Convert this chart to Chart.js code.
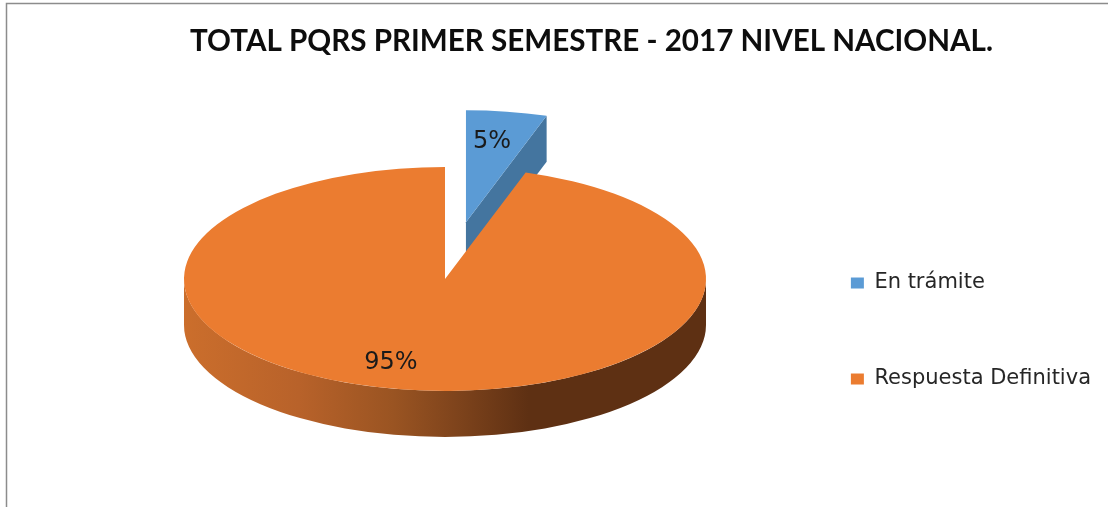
<!DOCTYPE html>
<html>
<head>
<meta charset="utf-8">
<style>
  html, body { margin: 0; background: #fff; }
  canvas { display: block; }
</style>
<script src="https://cdn.jsdelivr.net/npm/chart.js@4/dist/chart.umd.min.js"></script>
</head>
<body>
<canvas id="pqrsChart" width="1108" height="507"></canvas>
<script>
const categories = ['En trámite', 'Respuesta Definitiva'];
const shares = [5, 95];
const sliceColors = ['#5B9BD5', '#EB7C30'];
const chartTitle = 'TOTAL PQRS PRIMER SEMESTRE - 2017 NIVEL NACIONAL.';

// pie is a normal chart.js pie, squashed and given a wall to look 3D
const pieCenter = { x: 445, y: 279 };
const flat = 0.429;
const depth = 46;
const explode = [134, 0];
const labelShift = [{ x: 47, y: -137 }, { x: -54, y: 84 }];

const wallGradient = (ctx) => {
    const g = ctx.createLinearGradient(184, 0, 706, 0);
    g.addColorStop(0, '#CB6E2C');
    g.addColorStop(0.22, '#B8622A');
    g.addColorStop(0.4, '#9A5422');
    g.addColorStop(0.52, '#7F441C');
    g.addColorStop(0.66, '#5E3013');
    g.addColorStop(1, '#5E3013');
    return g;
};

const pie3d = {
    id: 'pie3d',
    beforeDraw(chart) {
        const ctx = chart.ctx;
        ctx.save();
        ctx.strokeStyle = '#8c8c8c';
        ctx.lineWidth = 1.5;
        ctx.beginPath();
        ctx.moveTo(6.5, 507);
        ctx.lineTo(6.5, 3.5);
        ctx.lineTo(1108, 3.5);
        ctx.stroke();
        ctx.restore();
    },
    beforeDatasetDraw(chart) {
        const ctx = chart.ctx;
        const arcs = chart.getDatasetMeta(0).data;
        const walls = ['#44759F', wallGradient(ctx)];

        // where each slice ends up on screen
        const centers = arcs.map((arc, i) => {
            const mid = (arc.startAngle + arc.endAngle) / 2;
            return {
                x: pieCenter.x + Math.cos(mid) * explode[i],
                y: pieCenter.y + Math.sin(mid) * explode[i] * flat
            };
        });

        arcs.forEach((arc, i) => {
            const r = arc.outerRadius;
            const { x: cx, y: cy } = centers[i];
            ctx.save();
            ctx.fillStyle = walls[i];

            const from = Math.max(arc.startAngle, 0);
            const to = Math.min(arc.endAngle, Math.PI);
            if (to > from) {
                ctx.beginPath();
                ctx.ellipse(cx, cy + depth, r, r * flat, 0, from, to);
                ctx.ellipse(cx, cy, r, r * flat, 0, to, from, true);
                ctx.closePath();
                ctx.fill();
            }

            // cut face of the slice
            const ex = cx + Math.cos(arc.endAngle) * r;
            const ey = cy + Math.sin(arc.endAngle) * r * flat;
            ctx.beginPath();
            ctx.moveTo(cx, cy);
            ctx.lineTo(ex, ey);
            ctx.lineTo(ex, ey + depth);
            ctx.lineTo(cx, cy + depth);
            ctx.closePath();
            ctx.fill();
            ctx.restore();
        });

        arcs.forEach((arc, i) => {
            ctx.save();
            ctx.translate(centers[i].x, centers[i].y);
            ctx.scale(1, flat);
            ctx.translate(-arc.x, -arc.y);
            arc.draw(ctx);
            ctx.restore();
        });

        ctx.save();
        ctx.fillStyle = '#1a1a1a';
        ctx.font = '24px "DejaVu Sans"';
        ctx.textAlign = 'center';
        ctx.textBaseline = 'middle';
        shares.forEach((v, i) => {
            ctx.fillText(v + '%', pieCenter.x + labelShift[i].x, pieCenter.y + labelShift[i].y);
        });
        ctx.restore();
        return false;
    }
};

new Chart(document.getElementById('pqrsChart'), {
    type: 'pie',
    data: {
        labels: categories,
        datasets: [{
            data: shares,
            backgroundColor: sliceColors,
            borderWidth: 0,
            hoverOffset: 0
        }]
    },
    plugins: [pie3d],
    options: {
        responsive: false,
        animation: false,
        radius: 261,
        layout: { padding: { left: 82, right: 7, top: 24, bottom: 0 } },
        plugins: {
            tooltip: { enabled: false },
            title: {
                display: true,
                text: chartTitle,
                color: '#0d0d0d',
                font: { family: 'Lato', size: 29.6, weight: 'bold' },
                padding: { top: 0, bottom: 95.5 }
            },
            legend: {
                position: 'right',
                fullSize: false,
                labels: {
                    boxWidth: 13,
                    boxHeight: 11,
                    padding: 75,
                    color: '#262626',
                    font: { family: '"DejaVu Sans"', size: 21 }
                }
            }
        }
    }
});
</script>
</body>
</html>
